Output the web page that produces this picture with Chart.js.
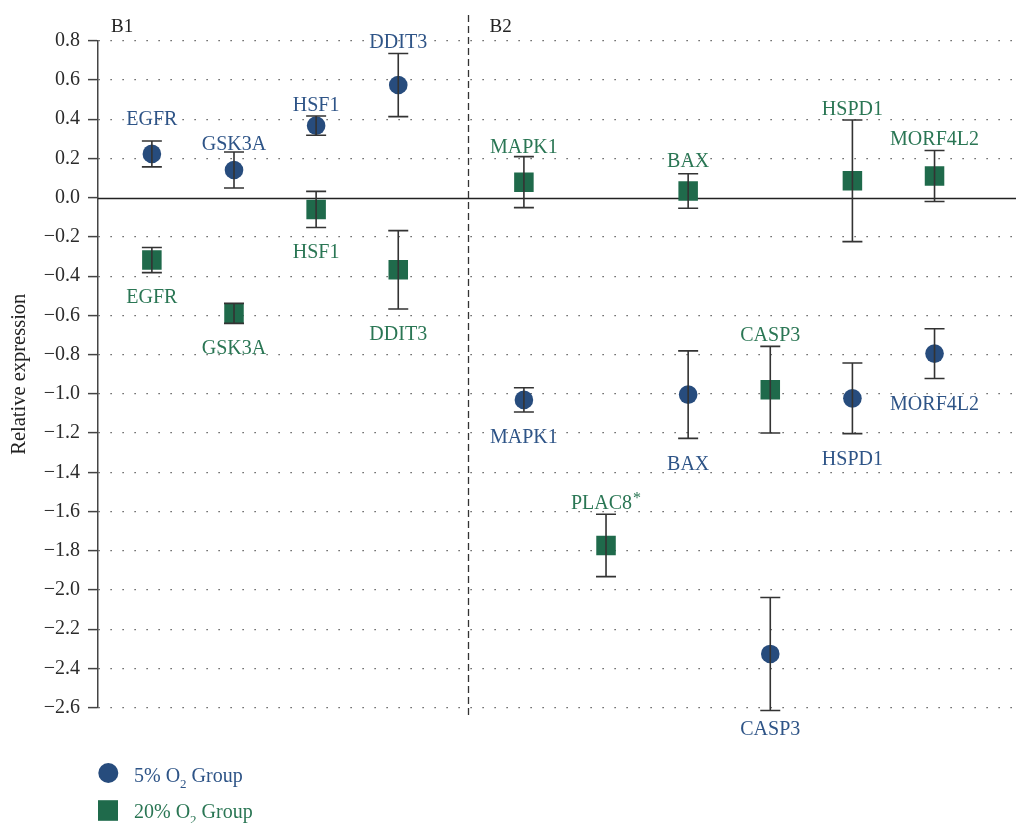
<!DOCTYPE html>
<html>
<head>
<meta charset="utf-8">
<title>Relative expression, 5% vs 20% O2</title>
<script src="https://cdn.jsdelivr.net/npm/chart.js@4.4.1/dist/chart.umd.min.js"></script>
<style>
  html, body { margin: 0; padding: 0; background: #ffffff; }
  #wrap { position: relative; width: 1016px; height: 823px; }
</style>
</head>
<body>
<div id="wrap"><canvas id="chart" width="1016" height="823"></canvas></div>
<script>
// ---- data ----
const genesB1 = ['EGFR', 'GSK3A', 'HSF1', 'DDIT3'];
const genesB2 = ['MAPK1', 'PLAC8', 'BAX', 'CASP3', 'HSPD1', 'MORF4L2'];
const blockNames = ['B1', 'B2'];

// 5% O2 group: mean relative expression and SD (null = not measured)
const mean5 = [0.223, 0.141, 0.367, 0.574, -1.031, null, -1.004, -2.326, -1.023, -0.795];
const sd5   = [0.066, 0.092, 0.049, 0.161,  0.062, null,  0.223,  0.288,  0.180,  0.127];

// 20% O2 group
const mean20 = [-0.318, -0.590, -0.060, -0.368, 0.079, -1.773, 0.034, -0.979, 0.086, 0.110];
const sd20   = [ 0.064,  0.051,  0.092,  0.200, 0.130,  0.159, 0.088,  0.221, 0.310, 0.130];

// significance marks printed after the gene label
const sig20 = ['', '', '', '', '', '*', '', '', '', ''];

const yTickValues = [0.8, 0.6, 0.4, 0.2, 0.0, -0.2, -0.4, -0.6, -0.8, -1.0, -1.2,
                     -1.4, -1.6, -1.8, -2.0, -2.2, -2.4, -2.6];

// ---- layout / style ----
const genes = genesB1.concat(genesB2);
const BLOCK_GAP = 0.53;                       // extra space between the two blocks
const slotX = i => (i < genesB1.length ? i : i + BLOCK_GAP);
const DIVIDER_X = 3.85;

const FONT = "'Liberation Serif', 'Times New Roman', serif";
const BLUE = '#274c7d';
const GREEN = '#1f6a4b';
const BLUE_TXT = '#2e5487';
const GREEN_TXT = '#2a7654';
const INK = '#333333';

// per-label pixel nudges (negative = up)
const nudge5  = [-11, 3, 0, 0, 0, 0, 1, -6, 1, 1];
const nudge20 = [0, 0, 0, 0, 1, 0, -2, 0, 0, -1];

function toPoints(means) {
  return means.map((v, i) => ({ x: slotX(i), y: v }));
}

const decor = {
  id: 'decor',
  beforeDatasetsDraw(chart) {
    const { ctx, chartArea: a, scales: { x, y } } = chart;
    ctx.save();
    // zero line
    const y0 = Math.round(y.getPixelForValue(0)) + 0.5;
    ctx.strokeStyle = '#222';
    ctx.lineWidth = 1.5;
    ctx.beginPath();
    ctx.moveTo(a.left, y0);
    ctx.lineTo(a.right, y0);
    ctx.stroke();
    // dashed block divider
    const xd = Math.round(x.getPixelForValue(DIVIDER_X)) + 0.5;
    ctx.setLineDash([7, 4]);
    ctx.lineWidth = 1.3;
    ctx.strokeStyle = INK;
    ctx.beginPath();
    ctx.moveTo(xd, 15);
    ctx.lineTo(xd, a.bottom + 9);
    ctx.stroke();
    ctx.setLineDash([]);
    // block names
    ctx.fillStyle = '#222';
    ctx.font = '19px ' + FONT;
    ctx.textAlign = 'left';
    ctx.textBaseline = 'alphabetic';
    ctx.fillText(blockNames[0], a.left + 13, 32);
    ctx.fillText(blockNames[1], xd + 21, 32);
    ctx.restore();
  },
  afterDatasetsDraw(chart) {
    const { ctx, scales: { y } } = chart;
    ctx.save();
    chart.data.datasets.forEach((ds, di) => {
      const meta = chart.getDatasetMeta(di);
      meta.data.forEach((pt, i) => {
        const m = ds.means[i];
        if (m === null || m === undefined) return;
        const s = ds.sds[i];
        const px = pt.x;
        const top = y.getPixelForValue(m + s);
        const bot = y.getPixelForValue(m - s);
        // error bar
        ctx.strokeStyle = INK;
        ctx.lineWidth = 1.6;
        ctx.beginPath();
        ctx.moveTo(px, top); ctx.lineTo(px, bot);
        ctx.moveTo(px - 10, top); ctx.lineTo(px + 10, top);
        ctx.moveTo(px - 10, bot); ctx.lineTo(px + 10, bot);
        ctx.stroke();
        // gene label
        const inB1 = i < genesB1.length;
        const above = (di === 0) === inB1;
        let base = above ? top - 5 : bot + 30.5;
        base += ds.nudges[i];
        const name = genes[i];
        const mark = ds.sig ? ds.sig[i] : '';
        ctx.font = '20px ' + FONT;
        const w1 = ctx.measureText(name).width;
        ctx.font = '16px ' + FONT;
        const w2 = mark ? ctx.measureText(mark).width + 1 : 0;
        const left = px - (w1 + w2) / 2;
        ctx.fillStyle = ds.textColor;
        ctx.textAlign = 'left';
        ctx.textBaseline = 'alphabetic';
        ctx.font = '20px ' + FONT;
        ctx.fillText(name, left, base);
        if (mark) {
          ctx.font = '16px ' + FONT;
          ctx.fillText(mark, left + w1 + 1, base - 6);
        }
      });
    });
    ctx.restore();
  },
  afterDraw(chart) {
    // legend, stacked at lower left
    const { ctx } = chart;
    ctx.save();
    const rows = [
      { ds: chart.data.datasets[0], cy: 773, base: 782 },
      { ds: chart.data.datasets[1], cy: 810.5, base: 817.5 }
    ];
    rows.forEach(r => {
      ctx.fillStyle = r.ds.backgroundColor;
      if (r.ds.pointStyle === 'circle') {
        ctx.beginPath();
        ctx.arc(108.3, r.cy, 10, 0, Math.PI * 2);
        ctx.fill();
      } else {
        ctx.fillRect(98, r.cy - 10.3, 20, 20.6);
      }
      const parts = r.ds.legendParts;
      let x = 134;
      ctx.fillStyle = r.ds.textColor;
      ctx.textAlign = 'left';
      ctx.textBaseline = 'alphabetic';
      ctx.font = '20px ' + FONT;
      ctx.fillText(parts[0], x, r.base);
      x += ctx.measureText(parts[0]).width;
      ctx.font = '13px ' + FONT;
      ctx.fillText(parts[1], x, r.base + 6);
      x += ctx.measureText(parts[1]).width;
      ctx.font = '20px ' + FONT;
      ctx.fillText(parts[2], x, r.base);
    });
    ctx.restore();
  }
};

new Chart(document.getElementById('chart'), {
  type: 'scatter',
  data: {
    datasets: [
      {
        label: '5% O2 Group',
        legendParts: ['5% O', '2', ' Group'],
        data: toPoints(mean5),
        means: mean5, sds: sd5, nudges: nudge5,
        textColor: BLUE_TXT,
        pointStyle: 'circle',
        pointRadius: 9.3,
        backgroundColor: BLUE,
        borderWidth: 0
      },
      {
        label: '20% O2 Group',
        legendParts: ['20% O', '2', ' Group'],
        data: toPoints(mean20),
        means: mean20, sds: sd20, nudges: nudge20, sig: sig20,
        textColor: GREEN_TXT,
        pointStyle: 'rect',
        pointRadius: 13.8,
        backgroundColor: GREEN,
        borderWidth: 0
      }
    ]
  },
  options: {
    responsive: false,
    animation: false,
    events: [],
    layout: { autoPadding: false, padding: { left: 0, top: 40.7, right: 0, bottom: 115.3 } },
    plugins: { legend: { display: false }, tooltip: { enabled: false } },
    scales: {
      x: { type: 'linear', min: -0.656, max: 10.522, display: false },
      y: {
        min: -2.6, max: 0.8,
        afterFit(scale) { scale.width = 98; },
        afterBuildTicks(scale) { scale.ticks = yTickValues.map(v => ({ value: v })); },
        ticks: {
          padding: 8,
          color: '#2b2b2b',
          font: { family: FONT, size: 20 },
          callback: v => v.toFixed(1).replace('-', '\u2212')
        },
        grid: {
          color: c => (c.tick && c.tick.value === 0 ? 'rgba(0,0,0,0)' : '#3a3a3a'),
          lineWidth: 1.2,
          tickLength: 10,
          tickColor: '#444',
          tickWidth: 1.5
        },
        border: { display: true, color: '#444', width: 1.5, dash: [1.2, 10.8] },
        title: {
          display: true,
          text: 'Relative expression',
          color: '#222',
          font: { family: FONT, size: 20.5 },
          padding: { top: 7.5, bottom: 0 }
        }
      }
    }
  },
  plugins: [decor]
});
</script>
</body>
</html>
